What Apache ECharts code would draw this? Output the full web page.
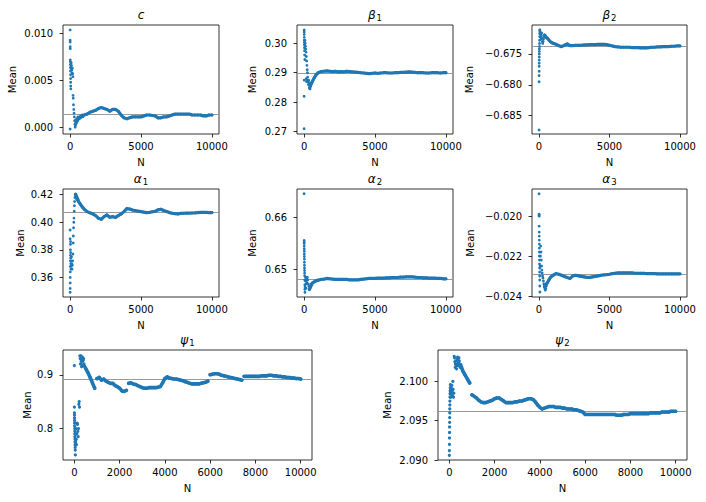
<!DOCTYPE html>
<html>
<head>
<meta charset="utf-8">
<script src="https://cdn.jsdelivr.net/npm/echarts@6.0.0/dist/echarts.min.js"></script>
<style>
html, body { margin: 0; padding: 0; background: #fff; }
#main { width: 706px; height: 502px; }
</style>
</head>
<body>
<div id="main"></div>
<script>
// running means of each parameter against the number of draws N

var nTail200 = [400,600,800,1000,1200,1400,1600,1800,2000,2200,2400,2600,2800,3000,3200,3400,3600,3800,4000,4200,
	4400,4600,4800,5000,5200,5400,5600,5800,6000,6200,6400,6600,6800,7000,7200,7400,7600,7800,8000,8200,
	8400,8600,8800,9000,9200,9400,9600,9800,10000];
var nTail100 = [500,600,700,800,900,1000,1100,1200,1300,1400,1500,1600,1700,1800,1900,2000,2100,2200,2300,2400,
	2500,2600,2700,2800,2900,3000,3100,3200,3300,3400,3500,3600,3700,3800,3900,4000,4100,4200,4300,4400,
	4500,4600,4700,4800,4900,5000,5100,5200,5300,5400,5500,5600,5700,5800,5900,6000,6100,6200,6300,6400,
	6500,6600,6700,6800,6900,7000,7100,7200,7300,7400,7500,7600,7700,7800,7900,8000,8100,8200,8300,8400,
	8500,8600,8700,8800,8900,9000,9100,9200,9300,9400,9500,9600,9700,9800,9900,10000];

var xTicksShort = [0, 5000, 10000];
var xTicksLong = [0, 2000, 4000, 6000, 8000, 10000];

// c
var cEarly = [[2,-0.0002],[3,0.0104],[5,0.0093],[7,0.0091],[9,0.0086],[11,0.0084],[14,0.0072],[17,0.0070],[20,0.0067],
	[24,0.0064],[28,0.0060],[32,0.0056],[36,0.0052],[40,0.0048],[45,0.0044],[50,0.0041],[60,0.0063],[80,0.0069],
	[100,0.0066],[120,0.0061],[140,0.0058],[160,0.0063],[180,0.0057],[200,0.0054],[210,0.0034],[220,0.0031],
	[240,0.0024],[260,0.0019],[280,0.0015],[300,0.0011],[320,0.0007],[340,0.0003],[360,0.0000],[380,0.0002],
	[420,0.0008],[450,0.0006],[480,0.0009],[520,0.0007],[550,0.0011],[650,0.0009],[700,0.0011],[750,0.0010],
	[850,0.0013],[900,0.0011]];
var cTail = [0.0004,0.0010,0.0012,0.0013,0.0014,0.0016,0.0017,0.0018,0.0020,0.0021,
	0.0020,0.0019,0.0017,0.0019,0.0019,0.0017,0.0013,0.0010,0.0009,0.0010,
	0.0011,0.0011,0.0011,0.0011,0.0012,0.0013,0.0013,0.00125,0.0012,0.0010,
	0.0010,0.0011,0.0011,0.0012,0.0013,0.0014,0.0014,0.0014,0.0014,0.0014,
	0.0014,0.0013,0.0013,0.0013,0.0013,0.0012,0.0012,0.0013,0.0013];
var cBreaks = [];
var cRef = 0.00136;
var cRange = [-0.00073, 0.01093];
var cTicks = [0, 0.005, 0.010];
var cLabels = ['0.000', '0.005', '0.010'];

// beta_1
var b1Early = [[1,0.2710],[3,0.2820],[5,0.2875],[7,0.3045],[9,0.3038],[11,0.3030],[13,0.3020],[15,0.3010],[18,0.3003],
	[21,0.2995],[25,0.2985],[30,0.2975],[40,0.2960],[50,0.2945],[60,0.3010],[80,0.3000],[100,0.2990],[120,0.2980],
	[140,0.2970],[160,0.2955],[180,0.2940],[200,0.2925],[220,0.2910],[240,0.2900],[150,0.2880],[170,0.2870],
	[200,0.2875],[250,0.2885],[280,0.2870],[300,0.2860],[330,0.2875],[360,0.2865],[380,0.2848],[420,0.2845],
	[450,0.2855],[500,0.2862],[550,0.2868],[700,0.2882],[900,0.2896]];
var b1Tail = [0.2850,0.2872,0.2890,0.2900,0.2904,0.2905,0.2906,0.2905,0.2904,0.2905,
	0.2903,0.2904,0.2903,0.2905,0.2904,0.2903,0.2902,0.2901,0.2900,0.2899,
	0.2898,0.2897,0.2898,0.2899,0.2898,0.2899,0.2900,0.2900,0.2899,0.2899,
	0.2900,0.2900,0.2901,0.2901,0.2902,0.2903,0.2902,0.2901,0.2900,0.2900,
	0.2900,0.2899,0.2899,0.2900,0.2900,0.2900,0.2899,0.2900,0.2900];
var b1Breaks = [];
var b1Ref = 0.28998;
var b1Range = [0.2692, 0.3062];
var b1Ticks = [0.27, 0.28, 0.29, 0.30];
var b1Labels = ['0.27', '0.28', '0.29', '0.30'];

// beta_2
var b2Early = [[1,-0.6873],[3,-0.6795],[5,-0.6785],[7,-0.6778],[9,-0.6770],[11,-0.6765],[13,-0.6760],[15,-0.6755],
	[18,-0.6750],[21,-0.6746],[24,-0.6742],[28,-0.6738],[32,-0.6733],[36,-0.6728],[40,-0.6722],[45,-0.6717],
	[50,-0.6712],[60,-0.6711],[70,-0.6714],[90,-0.6718],[110,-0.6722],[130,-0.6726],[150,-0.6724],[170,-0.6720],
	[190,-0.6716],[210,-0.6725],[230,-0.6730],[260,-0.6733],[290,-0.6730],[320,-0.6726],[350,-0.6722],
	[380,-0.6719],[450,-0.6720],[500,-0.6724],[700,-0.6728],[900,-0.6732]];
var b2Tail = [-0.67210,-0.67247,-0.67301,-0.67328,-0.67344,-0.67366,-0.67382,-0.67360,-0.67339,-0.67366,
	-0.67366,-0.67360,-0.67360,-0.67360,-0.67355,-0.67355,-0.67349,-0.67349,-0.67349,-0.67344,
	-0.67344,-0.67344,-0.67349,-0.67360,-0.67371,-0.67382,-0.67387,-0.67392,-0.67392,-0.67392,
	-0.67392,-0.67398,-0.67398,-0.67398,-0.67403,-0.67403,-0.67403,-0.67398,-0.67392,-0.67392,
	-0.67387,-0.67387,-0.67382,-0.67382,-0.67382,-0.67376,-0.67376,-0.67371,-0.67371];
var b2Breaks = [];
var b2Ref = -0.67371;
var b2Range = [-0.68796, -0.67032];
var b2Ticks = [-0.685, -0.680, -0.675];
var b2Labels = ['\u22120.685', '\u22120.680', '\u22120.675'];

// alpha_1
var a1Early = [[1,0.3944],[3,0.3880],[5,0.3492],[7,0.3520],[9,0.3560],[11,0.3600],[13,0.3640],[15,0.3680],[18,0.3720],
	[21,0.3760],[24,0.3800],[28,0.3840],[32,0.3860],[36,0.3780],[40,0.3740],[50,0.3700],[60,0.3660],[70,0.3720],
	[85,0.3680],[100,0.3750],[120,0.3700],[140,0.3660],[160,0.3690],[180,0.3720],[200,0.3770],[215,0.3850],
	[230,0.3900],[245,0.3960],[260,0.4000],[275,0.4030],[290,0.4080],[305,0.4120],[320,0.4150],[340,0.4180],
	[360,0.4200],[380,0.4205],[420,0.4190],[450,0.4170],[480,0.4180],[520,0.4160],[560,0.4165],[650,0.4140],
	[700,0.4135],[750,0.4125],[850,0.4110],[900,0.4105]];
var a1Tail = [0.4200,0.4150,0.4120,0.4094,0.4077,0.4068,0.4060,0.4048,0.4029,0.4022,
	0.4041,0.4053,0.4036,0.4041,0.4034,0.4048,0.4060,0.4077,0.4099,0.4096,
	0.4088,0.4085,0.4080,0.4077,0.4073,0.4070,0.4072,0.4076,0.4080,0.4090,
	0.4094,0.4085,0.4078,0.4070,0.4065,0.4062,0.4060,0.4064,0.4065,0.4066,
	0.4066,0.4067,0.4068,0.4070,0.4071,0.4072,0.4071,0.4070,0.4070];
var a1Breaks = [];
var a1Ref = 0.40699;
var a1Range = [0.3458, 0.4241];
var a1Ticks = [0.36, 0.38, 0.40, 0.42];
var a1Labels = ['0.36', '0.38', '0.40', '0.42'];

// alpha_2
var a2Early = [[1,0.6646],[3,0.6556],[5,0.6553],[7,0.6550],[9,0.6545],[11,0.6540],[13,0.6535],[15,0.6530],[17,0.6525],
	[19,0.6520],[22,0.6514],[25,0.6508],[28,0.6503],[32,0.6498],[36,0.6493],[40,0.6488],[45,0.6480],[50,0.6470],
	[55,0.6462],[60,0.6456],[70,0.6466],[80,0.6478],[100,0.6485],[120,0.6472],[140,0.6464],[160,0.6478],
	[180,0.6482],[200,0.6474],[230,0.6485],[260,0.6480],[300,0.6472],[330,0.6468],[360,0.6462],[380,0.6461],
	[420,0.6464],[450,0.6468],[500,0.6472],[700,0.6476],[900,0.6478]];
var a2Tail = [0.64635,0.64744,0.64776,0.64795,0.64808,0.64814,0.64827,0.64821,0.64814,0.64808,
	0.64808,0.64808,0.64808,0.64808,0.64801,0.64801,0.64801,0.64801,0.64808,0.64814,
	0.64821,0.64827,0.64827,0.64827,0.64833,0.64833,0.64833,0.64840,0.64840,0.64846,
	0.64846,0.64846,0.64853,0.64853,0.64859,0.64859,0.64859,0.64853,0.64846,0.64846,
	0.64840,0.64840,0.64833,0.64833,0.64833,0.64827,0.64827,0.64821,0.64821];
var a2Breaks = [];
var a2Ref = 0.64814;
var a2Range = [0.6447, 0.6655];
var a2Ticks = [0.65, 0.66];
var a2Labels = ['0.65', '0.66'];

// alpha_3
var a3Early = [[1,-0.01888],[3,-0.01990],[5,-0.01995],[7,-0.02000],[9,-0.02050],[11,-0.02080],[13,-0.02100],
	[15,-0.02120],[17,-0.02140],[20,-0.02160],[23,-0.02180],[26,-0.02200],[30,-0.02220],[34,-0.02240],
	[38,-0.02260],[42,-0.02280],[46,-0.02300],[50,-0.02320],[55,-0.02350],[60,-0.02380],[80,-0.02250],
	[100,-0.02200],[120,-0.02150],[140,-0.02180],[160,-0.02220],[180,-0.02250],[200,-0.02270],[220,-0.02285],
	[250,-0.02300],[280,-0.02310],[310,-0.02325],[340,-0.02340],[370,-0.02355],[420,-0.02365],[450,-0.02370],
	[480,-0.02362],[520,-0.02350],[560,-0.02340],[700,-0.02318],[900,-0.02300]];
var a3Tail = [-0.02349,-0.02332,-0.02307,-0.02296,-0.02288,-0.02291,-0.02296,-0.02302,-0.02307,-0.02312,
	-0.02299,-0.02296,-0.02299,-0.02302,-0.02304,-0.02307,-0.02307,-0.02304,-0.02302,-0.02299,
	-0.02296,-0.02294,-0.02293,-0.02291,-0.02288,-0.02286,-0.02284,-0.02284,-0.02284,-0.02284,
	-0.02284,-0.02284,-0.02286,-0.02286,-0.02286,-0.02286,-0.02288,-0.02288,-0.02288,-0.02288,
	-0.02289,-0.02289,-0.02289,-0.02289,-0.02289,-0.02289,-0.02289,-0.02289,-0.02289];
var a3Breaks = [];
var a3Ref = -0.02289;
var a3Range = [-0.02405, -0.01864];
var a3Ticks = [-0.024, -0.022, -0.020];
var a3Labels = ['\u22120.024', '\u22120.022', '\u22120.020'];

// psi_1
var p1Early = [[2,0.917],[4,0.840],[6,0.829],[8,0.825],[10,0.820],[12,0.815],[14,0.810],[16,0.805],[18,0.800],
	[20,0.795],[23,0.790],[26,0.785],[29,0.780],[32,0.775],[35,0.770],[38,0.765],[41,0.760],[45,0.751],
	[55,0.775],[65,0.790],[75,0.800],[85,0.780],[95,0.770],[110,0.790],[125,0.810],[140,0.808],[155,0.795],
	[170,0.785],[185,0.800],[200,0.845],[215,0.850],[230,0.840],[245,0.935],[260,0.930],[275,0.920],
	[290,0.935],[305,0.925],[320,0.915],[335,0.930],[350,0.933],[365,0.925],[380,0.918],[395,0.927],
	[410,0.930],[430,0.920],[450,0.916],[470,0.914]];
var p1Tail = [0.912,0.904,0.895,0.885,0.875,0.893,0.895,0.890,0.892,0.888,
	0.886,0.884,0.884,0.880,0.878,0.875,0.870,0.869,0.871,0.884,
	0.885,0.883,0.882,0.880,0.878,0.876,0.875,0.875,0.876,0.876,
	0.876,0.876,0.877,0.878,0.885,0.893,0.896,0.894,0.893,0.892,
	0.892,0.891,0.890,0.889,0.887,0.886,0.884,0.883,0.883,0.883,
	0.883,0.884,0.885,0.886,0.888,0.900,0.901,0.902,0.902,0.901,
	0.899,0.898,0.897,0.896,0.895,0.894,0.893,0.892,0.891,0.890,
	0.897,0.897,0.897,0.897,0.897,0.897,0.897,0.897,0.898,0.898,
	0.898,0.899,0.899,0.898,0.898,0.897,0.897,0.896,0.896,0.895,
	0.895,0.894,0.894,0.893,0.893,0.892];
var p1Breaks = [1000, 2400, 6000, 7500];
var p1Ref = 0.8919;
var p1Range = [0.7416, 0.9460];
var p1Ticks = [0.8, 0.9];
var p1Labels = ['0.8', '0.9'];

// psi_2
var p2Early = [[2,2.0906],[4,2.0912],[6,2.0920],[8,2.0928],[10,2.0935],[12,2.0942],[14,2.0948],[16,2.0954],
	[18,2.0960],[20,2.0965],[23,2.0970],[26,2.0975],[30,2.0980],[34,2.0984],[38,2.0988],[42,2.0992],[46,2.0996],
	[50,2.0985],[60,2.0990],[70,2.0980],[80,2.0992],[95,2.0985],[110,2.0995],[125,2.0988],[140,2.0982],
	[155,2.1000],[170,2.0990],[185,2.0980],[200,2.0985],[215,2.1032],[230,2.1030],[245,2.1025],[260,2.1018],
	[275,2.1022],[290,2.1026],[305,2.1020],[320,2.1016],[335,2.1022],[350,2.1028],[365,2.1031],[380,2.1027],
	[395,2.1020],[410,2.1024],[425,2.1030],[440,2.1026],[460,2.1022],[480,2.1018]];
var p2Tail = [2.1021,2.1013,2.1008,2.1003,2.0998,2.0983,2.0981,2.0979,2.0976,2.0974,
	2.0973,2.0973,2.0974,2.0975,2.0976,2.0978,2.0979,2.0979,2.0977,2.0975,
	2.0973,2.0973,2.0973,2.0973,2.0974,2.0974,2.0975,2.0975,2.0976,2.0977,
	2.0978,2.0978,2.0977,2.0974,2.0970,2.0967,2.0965,2.0966,2.0967,2.0968,
	2.0968,2.0968,2.0967,2.0967,2.0967,2.0966,2.0966,2.0965,2.0965,2.0965,
	2.0964,2.0964,2.0963,2.0962,2.0961,2.0958,2.0958,2.0958,2.0958,2.0958,
	2.0958,2.0958,2.0958,2.0958,2.0958,2.0958,2.0958,2.0958,2.0958,2.0957,
	2.0957,2.0957,2.0958,2.0958,2.0958,2.0959,2.0959,2.0959,2.0959,2.0959,
	2.0959,2.0959,2.0959,2.0959,2.0960,2.0960,2.0960,2.0960,2.0960,2.0961,
	2.0961,2.0961,2.0961,2.0962,2.0962,2.0962];
var p2Breaks = [1000];
var p2Ref = 2.09624;
var p2Range = [2.0900, 2.1040];
var p2Ticks = [2.090, 2.095, 2.100];
var p2Labels = ['2.090', '2.095', '2.100'];

var FONT = 'DejaVu Sans';
var BLUE = '#1f77b4';

function joinPoints(early, ns, tail) {
	return early.concat(ns.map(function(n, i) { return [n, tail[i]]; }));
}

// tail as a continuous band, split where the running mean jumps
function tailBand(ns, tail, breaks) {
	var out = [];
	ns.forEach(function(n, i) {
		if (breaks.indexOf(n) >= 0) out.push([n, '-']);
		out.push([n, tail[i]]);
	});
	return out;
}

// box = [left, top, width, height] of each axes frame
var panels = [
	{ title: '{m|c}', early: cEarly, ns: nTail200, tail: cTail, breaks: cBreaks, ref: cRef, range: cRange, ticks: cTicks, labels: cLabels, xt: xTicksShort, box: [63, 25, 156, 109], gap: 46 },
	{ title: '{m|β}{s|1}', early: b1Early, ns: nTail200, tail: b1Tail, breaks: b1Breaks, ref: b1Ref, range: b1Range, ticks: b1Ticks, labels: b1Labels, xt: xTicksShort, box: [297, 25, 156, 109], gap: 40 },
	{ title: '{m|β}{s|2}', early: b2Early, ns: nTail200, tail: b2Tail, breaks: b2Breaks, ref: b2Ref, range: b2Range, ticks: b2Ticks, labels: b2Labels, xt: xTicksShort, box: [532, 25, 155, 109], gap: 58 },
	{ title: '{m|α}{s|1}', early: a1Early, ns: nTail200, tail: a1Tail, breaks: a1Breaks, ref: a1Ref, range: a1Range, ticks: a1Ticks, labels: a1Labels, xt: xTicksShort, box: [63, 189, 156, 108], gap: 38 },
	{ title: '{m|α}{s|2}', early: a2Early, ns: nTail200, tail: a2Tail, breaks: a2Breaks, ref: a2Ref, range: a2Range, ticks: a2Ticks, labels: a2Labels, xt: xTicksShort, box: [297, 189, 156, 108], gap: 40 },
	{ title: '{m|α}{s|3}', early: a3Early, ns: nTail200, tail: a3Tail, breaks: a3Breaks, ref: a3Ref, range: a3Range, ticks: a3Ticks, labels: a3Labels, xt: xTicksShort, box: [532, 189, 155, 108], gap: 57 },
	{ title: '{m|ψ}{s|1}', early: p1Early, ns: nTail100, tail: p1Tail, breaks: p1Breaks, ref: p1Ref, range: p1Range, ticks: p1Ticks, labels: p1Labels, xt: xTicksLong, box: [63, 350, 249, 110], gap: 31 },
	{ title: '{m|ψ}{s|2}', early: p2Early, ns: nTail100, tail: p2Tail, breaks: p2Breaks, ref: p2Ref, range: p2Range, ticks: p2Ticks, labels: p2Labels, xt: xTicksLong, box: [438, 350, 249, 110], gap: 46 }
];

var textBase = { color: '#000', fontFamily: FONT, fontSize: 10 };

var option = {
	animation: false,
	backgroundColor: '#fff',
	grid: [], xAxis: [], yAxis: [], series: [], graphic: []
};

panels.forEach(function(p, i) {
	var wide = i >= 6;
	option.grid.push({
		left: p.box[0], top: p.box[1], width: p.box[2], height: p.box[3],
		show: true, borderColor: '#000', borderWidth: 0.8
	});
	option.xAxis.push({
		gridIndex: i, type: 'value', min: -500, max: 10500,
		name: 'N', nameLocation: 'middle', nameGap: 23, nameTextStyle: textBase,
		axisLine: { show: false, onZero: false },
		splitLine: { show: false },
		axisTick: { show: true, length: 3.5, lineStyle: { color: '#000', width: 0.8 }, customValues: p.xt },
		axisLabel: Object.assign({ margin: 7, customValues: p.xt, formatter: function(v) { return String(v); } }, textBase)
	});
	option.yAxis.push({
		gridIndex: i, type: 'value', min: p.range[0], max: p.range[1],
		name: 'Mean', nameLocation: 'middle', nameGap: p.gap, nameTextStyle: textBase,
		axisLine: { show: false, onZero: false },
		splitLine: { show: false },
		axisTick: { show: true, length: 3.5, lineStyle: { color: '#000', width: 0.8 }, customValues: p.ticks },
		axisLabel: Object.assign({
			margin: 10, customValues: p.ticks,
			formatter: function(v) { var k = p.ticks.indexOf(v); return k >= 0 ? p.labels[k] : ''; }
		}, textBase)
	});
	option.series.push({
		type: 'line', xAxisIndex: i, yAxisIndex: i, z: 3,
		data: tailBand(p.ns, p.tail, p.breaks),
		showSymbol: false, symbol: 'none', connectNulls: false, silent: true,
		lineStyle: { color: BLUE, width: wide ? 3.6 : 3.2, cap: 'round', join: 'round' }
	});
	option.series.push({
		type: 'scatter', xAxisIndex: i, yAxisIndex: i, z: 4,
		data: joinPoints(p.early, p.ns, p.tail),
		symbolSize: wide ? 3.2 : 2.8,
		itemStyle: { color: BLUE, opacity: 1 },
		silent: true,
		markLine: {
			silent: true, symbol: 'none', label: { show: false }, precision: 10, z: 1,
			lineStyle: { color: '#9a9a9a', width: 1.2, type: 'solid' },
			data: [{ yAxis: p.ref }]
		}
	});
	option.graphic.push({
		type: 'text',
		x: p.box[0] + p.box[2] / 2,
		y: p.box[1] - 10,
		style: {
			text: p.title, align: 'center', verticalAlign: 'middle',
			rich: {
				m: { fontFamily: FONT, fontStyle: 'italic', fontSize: 12, fill: '#000', color: '#000' },
				s: { fontFamily: FONT, fontSize: 8.5, fill: '#000', color: '#000', padding: [6, 0, 0, 1] }
			}
		}
	});
});

var chart = echarts.init(document.getElementById('main'), null, { renderer: 'svg' });
chart.setOption(option);
</script>
</body>
</html>
